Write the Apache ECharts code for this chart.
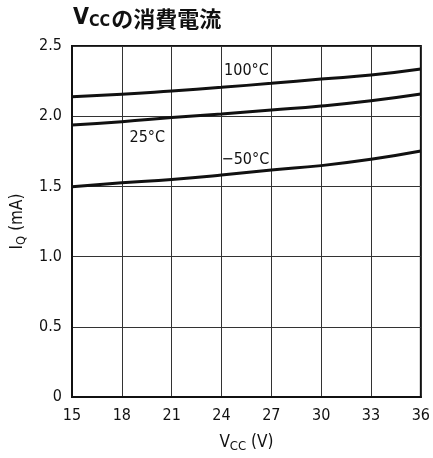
<!DOCTYPE html>
<html>
<head>
<meta charset="utf-8">
<script src="https://cdn.jsdelivr.net/npm/echarts@6/dist/echarts.min.js"></script>
<style>
  html, body { margin: 0; padding: 0; background: #fff; }
  #chart { width: 433px; height: 458px; }
</style>
</head>
<body>
<div id="chart"></div>
<script>
// Supply voltage (V) sample points
const vcc = [15, 18, 21, 24, 27, 30, 33, 36];
// Quiescent current (mA) per temperature
const iq100 = [2.139, 2.156, 2.180, 2.206, 2.234, 2.265, 2.293, 2.336];
const iq25 = [1.937, 1.961, 1.990, 2.016, 2.044, 2.073, 2.110, 2.158];
const iqMinus50 = [1.498, 1.526, 1.550, 1.581, 1.617, 1.648, 1.693, 1.752];
const xTicks = [15, 18, 21, 24, 27, 30, 33, 36];
const yTicks = [0, 0.5, 1.0, 1.5, 2.0, 2.5];

const FONT = '"DejaVu Sans Condensed", "Liberation Sans Narrow", sans-serif';
const CJK = '"Noto Sans CJK JP", sans-serif';

function pairs(ys) { return vcc.map((v, i) => [v, ys[i]]); }

function curve(name, ys, labelText, labelAt) {
  return {
    name: name,
    type: 'line',
    smooth: true,
    symbol: 'none',
    data: pairs(ys),
    lineStyle: { color: '#111', width: 3 },
    z: 5,
    markPoint: {
      symbol: 'circle',
      symbolSize: 0,
      silent: true,
      data: [{
        coord: labelAt,
        label: {
          show: true,
          formatter: labelText,
          color: '#111',
          fontFamily: FONT,
          fontSize: 16,
          position: 'inside'
        }
      }]
    }
  };
}

const chart = echarts.init(document.getElementById('chart'));
chart.setOption({
  animation: false,
  backgroundColor: '#fff',
  title: {
    left: 73,
    top: 7,
    padding: 0,
    text: '{v|V}{cc|CC}{t|の消費電流}',
    textStyle: {
      rich: {
        v: { fontFamily: FONT, fontWeight: 'bold', fontSize: 23, color: '#111' },
        cc: { fontFamily: FONT, fontWeight: 'bold', fontSize: 16, color: '#111', verticalAlign: 'bottom', padding: [7, 1, 0, 0] },
        t: { fontFamily: CJK, fontWeight: 'bold', fontSize: 22, color: '#111' }
      }
    }
  },
  grid: {
    left: 72, right: 9, top: 46, bottom: 61,
    show: true, borderColor: '#111', borderWidth: 2
  },
  xAxis: {
    type: 'value',
    min: 15, max: 36, interval: 3,
    axisLine: { show: true, lineStyle: { color: '#111', width: 2 } },
    axisTick: { show: false },
    axisLabel: {
      color: '#111', fontFamily: FONT, fontSize: 16, margin: 11,
      formatter: v => xTicks.includes(v) ? String(v) : ''
    },
    splitLine: { show: true, lineStyle: { color: '#333', width: 1 } },
    name: '{v|V}{cc|CC}{t| (V)}',
    nameLocation: 'middle',
    nameGap: 36,
    nameTextStyle: {
      rich: {
        v: { fontFamily: FONT, fontSize: 17, color: '#111' },
        cc: { fontFamily: FONT, fontSize: 13, color: '#111', verticalAlign: 'bottom', padding: [7, 0, 0, 0] },
        t: { fontFamily: FONT, fontSize: 17, color: '#111' }
      }
    }
  },
  yAxis: {
    type: 'value',
    min: 0, max: 2.5, interval: 0.5,
    axisLine: { show: true, lineStyle: { color: '#111', width: 2 } },
    axisTick: { show: false },
    axisLabel: {
      color: '#111', fontFamily: FONT, fontSize: 16, margin: 10,
      formatter: v => {
        const t = yTicks.find(k => Math.abs(k - v) < 1e-9);
        return t === undefined ? '' : (t === 0 ? '0' : t.toFixed(1));
      }
    },
    splitLine: { show: true, lineStyle: { color: '#333', width: 1 } },
    name: '{v|I}{q|Q}{t| (mA)}',
    nameLocation: 'middle',
    nameGap: 44,
    nameRotate: 90,
    nameTextStyle: {
      rich: {
        v: { fontFamily: FONT, fontSize: 17, color: '#111' },
        q: { fontFamily: FONT, fontSize: 13, color: '#111', verticalAlign: 'bottom', padding: [7, 0, 0, 0] },
        t: { fontFamily: FONT, fontSize: 17, color: '#111' }
      }
    }
  },
  series: [
    curve('100°C', iq100, '100°C', [25.5, 2.322]),
    curve('25°C', iq25, '25°C', [19.53, 1.845]),
    curve('−50°C', iqMinus50, '−50°C', [25.44, 1.688])
  ]
});
</script>
</body>
</html>
